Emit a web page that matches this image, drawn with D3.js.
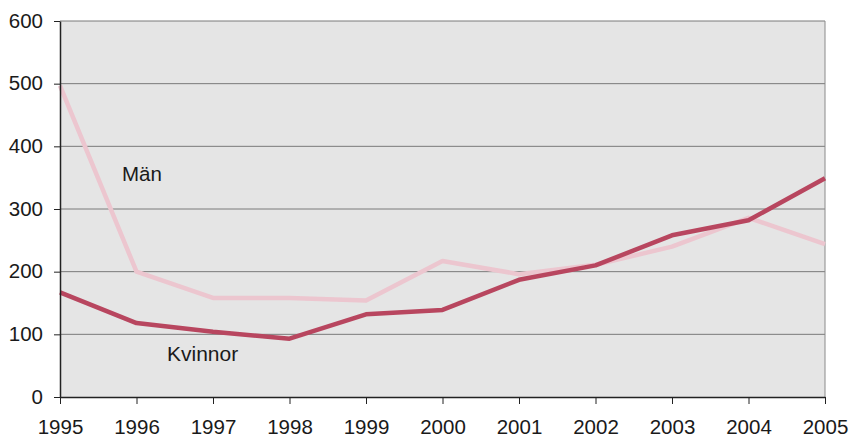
<!DOCTYPE html>
<html lang="sv">
<head>
<meta charset="utf-8">
<title>Män och kvinnor 1995–2005</title>
<script src="https://d3js.org/d3.v7.min.js"></script>
<style>
  body { margin: 0; background: #fff; }
  svg { font-family: "Liberation Sans", Arial, sans-serif; }
  .axis text { font-size: 20.5px; fill: #1a1a1a; }
  .axis path, .axis line { stroke: #222; }
</style>
</head>
<body>
<div id="chart"></div>
<script>
var years = [1995, 1996, 1997, 1998, 1999, 2000, 2001, 2002, 2003, 2004, 2005];
var man = [497, 200, 158, 158, 154, 217, 196, 211, 240, 286, 244];
var kvinnor = [167, 118, 104, 93, 132, 139, 187, 210, 258, 282, 349];
var yTicks = [0, 100, 200, 300, 400, 500, 600];

var width = 849, height = 438;
var margin = {top: 21, right: 24, bottom: 41, left: 60};

var svg = d3.select("#chart").append("svg")
    .attr("width", width)
    .attr("height", height);

var x = d3.scaleLinear()
    .domain([1995, 2005])
    .range([margin.left, width - margin.right]);
var y = d3.scaleLinear()
    .domain([0, 600])
    .range([height - margin.bottom, margin.top]);

// plot background
svg.append("rect")
    .attr("x", x(1995))
    .attr("y", y(600))
    .attr("width", x(2005) - x(1995))
    .attr("height", y(0) - y(600))
    .attr("fill", "#e5e5e5");

// grid lines
svg.append("g")
    .selectAll("line")
    .data(yTicks.filter(function(d) { return d > 0; }))
    .enter().append("line")
    .attr("x1", x(1995)).attr("x2", x(2005))
    .attr("y1", function(d) { return y(d); })
    .attr("y2", function(d) { return y(d); })
    .attr("stroke", "#7a7a7a")
    .attr("stroke-width", 1);

// right border
svg.append("line")
    .attr("x1", x(2005)).attr("x2", x(2005))
    .attr("y1", y(600)).attr("y2", y(0))
    .attr("stroke", "#8a8a8a");

var line = d3.line()
    .x(function(d, i) { return x(years[i]); })
    .y(function(d) { return y(d); });

svg.append("path")
    .datum(man)
    .attr("d", line)
    .attr("fill", "none")
    .attr("stroke", "#ecc6cf")
    .attr("stroke-width", 4.5)
    .attr("stroke-linejoin", "round");

svg.append("path")
    .datum(kvinnor)
    .attr("d", line)
    .attr("fill", "none")
    .attr("stroke", "#b8465f")
    .attr("stroke-width", 4.5)
    .attr("stroke-linejoin", "round");

// axes
svg.append("g")
    .attr("class", "axis")
    .attr("transform", "translate(" + margin.left + ",0)")
    .call(d3.axisLeft(y).tickValues(yTicks).tickSize(6).tickPadding(11).tickSizeOuter(0))
    .call(function(g) { g.selectAll("text").attr("dy", "0.3em"); });

svg.append("g")
    .attr("class", "axis")
    .attr("transform", "translate(0," + y(0) + ")")
    .call(d3.axisBottom(x).tickValues(years).tickFormat(d3.format("d")).tickSize(7).tickPadding(15).tickSizeOuter(0));

svg.selectAll(".axis .domain").attr("stroke-width", 1.5);

// series labels
svg.append("text")
    .attr("x", 122).attr("y", 181)
    .attr("font-size", 20.5).attr("fill", "#1a1a1a")
    .text("Män");
svg.append("text")
    .attr("x", 167).attr("y", 361)
    .attr("font-size", 21).attr("fill", "#1a1a1a")
    .text("Kvinnor");
</script>
</body>
</html>
